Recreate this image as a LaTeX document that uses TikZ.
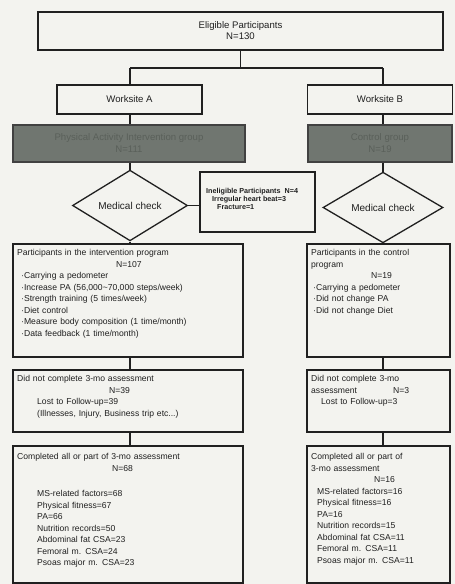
\documentclass[tikz,border=0pt]{standalone}
\usepackage{fontspec}
\setmainfont{Liberation Sans}
\usetikzlibrary{shapes.geometric}
\definecolor{bg}{RGB}{243,243,239}
\definecolor{ink}{RGB}{32,32,32}
\definecolor{grayfill}{RGB}{112,118,112}
\definecolor{graytext}{RGB}{90,96,90}
\begin{document}
\begin{tikzpicture}[x=1pt,y=-1pt,
  box/.style={draw=ink, line width=1.3pt, fill=bg, inner sep=0pt, align=center, text=ink, font=\fontsize{9.6}{11}\selectfont},
  shadebox/.style={draw=ink!85, line width=1.3pt, fill=grayfill, text=graytext, inner sep=0pt, align=center, font=\fontsize{9.6}{12}\selectfont},
  dia/.style={diamond, draw=ink, line width=1.3pt, fill=bg, inner sep=0pt, text=ink, font=\fontsize{10}{12}\selectfont},
  txt/.style={inner sep=0pt, anchor=north west, text=ink, font=\fontsize{8.6}{11.5}\selectfont},
  small/.style={inner sep=0pt, anchor=north west, align=left, text=ink, font=\fontsize{7.2}{7.6}\selectfont\bfseries},
  link/.style={draw=ink, line width=1.3pt}]
\fill[bg] (0,0) rectangle (455,584);
\useasboundingbox (0,0) rectangle (455,584);

% columns
\coordinate (colA) at (130,0);
\coordinate (colB) at (383,0);
\coordinate (split) at (240.5,68);

% boxes
\node[box, minimum width=405pt, minimum height=38pt] (elig) at (240.5,31) {Eligible Participants\\N=130};
\node[box, minimum width=145pt, minimum height=29pt] (wsA) at (129.5,99.5) {Worksite A};
\node[box, minimum width=145pt, minimum height=29pt] (wsB) at (380,99.5) {Worksite B};
\node[shadebox, minimum width=232pt, minimum height=37pt] (grpA) at (129,143.5) {Physical Activity Intervention group\\N=111};
\node[shadebox, minimum width=144pt, minimum height=37pt] (grpB) at (380,143.5) {Control group\\N=19};
\node[dia, minimum width=115pt, minimum height=65pt] (medA) at (130,205.5) {Medical check};
\node[dia, minimum width=120pt, minimum height=65pt] (medB) at (383,207.5) {Medical check};
\node[box, minimum width=115pt, minimum height=60pt] (inel) at (257.5,202) {};
\node[box, minimum width=230pt, minimum height=113pt] (partA) at (128,300.5) {};
\node[box, minimum width=143pt, minimum height=113pt] (partB) at (378.5,300.5) {};
\node[box, minimum width=230pt, minimum height=62pt] (dncA) at (128,401) {};
\node[box, minimum width=143pt, minimum height=62pt] (dncB) at (378.5,401) {};
\node[box, minimum width=230pt, minimum height=137pt] (compA) at (128,514.5) {};
\node[box, minimum width=143pt, minimum height=137pt] (compB) at (378.5,514.5) {};

% texts
\node[small] (inelT) at (206,188.5) {Ineligible Participants\ \ N=4\\\hspace*{6pt}Irregular heart beat=3\\\hspace*{11pt}Fracture=1};

\node[txt, text width=224pt] (partAT) at (17,249.5) {\raggedright
Participants in the intervention program\par
\hspace*{99pt}N=107\par
\hspace*{4pt}·Carrying a pedometer\par
\hspace*{4pt}·Increase PA (56,000\char`~70,000 steps/week)\par
\hspace*{4pt}·Strength training (5 times/week)\par
\hspace*{4pt}·Diet control\par
\hspace*{4pt}·Measure body composition (1 time/month)\par
\hspace*{4pt}·Data feedback (1 time/month)\par};

\node[txt, text width=136pt] (partBT) at (311,249.5) {\raggedright
Participants in the control\par
program\par
\hspace*{60pt}N=19\par
\hspace*{2pt}·Carrying a pedometer\par
\hspace*{2pt}·Did not change PA\par
\hspace*{2pt}·Did not change Diet\par};

\node[txt, text width=224pt] (dncAT) at (17,375.5) {\raggedright
Did not complete 3-mo assessment\par
\hspace*{92pt}N=39\par
\hspace*{20pt}Lost to Follow-up=39\par
\hspace*{20pt}(Illnesses, Injury, Business trip etc...)\par};

\node[txt, text width=136pt] (dncBT) at (311,375.5) {\raggedright
Did not complete 3-mo\par
\makebox[82pt][l]{assessment}N=3\par
\hspace*{10pt}Lost to Follow-up=3\par};

\node[txt, text width=224pt] (compAT) at (17,453.5) {\raggedright
Completed all or part of 3-mo assessment\par
\hspace*{95pt}N=68\par
\vspace*{14pt}
\hspace*{20pt}MS-related factors=68\par
\hspace*{20pt}Physical fitness=67\par
\hspace*{20pt}PA=66\par
\hspace*{20pt}Nutrition records=50\par
\hspace*{20pt}Abdominal fat CSA=23\par
\hspace*{20pt}Femoral m. CSA=24\par
\hspace*{20pt}Psoas major m. CSA=23\par};

\node[txt, text width=136pt] (compBT) at (311,453.5) {\raggedright
Completed all or part of\par
3-mo assessment\par
\hspace*{63pt}N=16\par
\hspace*{6pt}MS-related factors=16\par
\hspace*{6pt}Physical fitness=16\par
\hspace*{6pt}PA=16\par
\hspace*{6pt}Nutrition records=15\par
\hspace*{6pt}Abdominal fat CSA=11\par
\hspace*{6pt}Femoral m. CSA=11\par
\hspace*{6pt}Psoas major m. CSA=11\par};

% connectors
\draw[link] (elig.south) -- (split);
\draw[link] (split -| colA) -- (split -| colB);
\draw[link] (split -| colA) -- (wsA.north -| colA);
\draw[link] (split -| colB) -- (wsB.north -| colB);
\draw[link] (wsA.south -| colA) -- (grpA.north -| colA);
\draw[link] (wsB.south -| colB) -- (grpB.north -| colB);
\draw[link] (grpA.south -| colA) -- (medA.north);
\draw[link] (grpB.south -| colB) -- (medB.north);
\draw[link] (medA.east) -- (inel.west |- medA.east);
\draw[link] (medA.south) -- (partA.north -| colA);
\draw[link] (medB.south) -- (partB.north -| colB);
\draw[link] (partA.south -| colA) -- (dncA.north -| colA);
\draw[link] (partB.south -| colB) -- (dncB.north -| colB);
\draw[link] (dncA.south -| colA) -- (compA.north -| colA);
\draw[link] (dncB.south -| colB) -- (compB.north -| colB);
\end{tikzpicture}
\end{document}
